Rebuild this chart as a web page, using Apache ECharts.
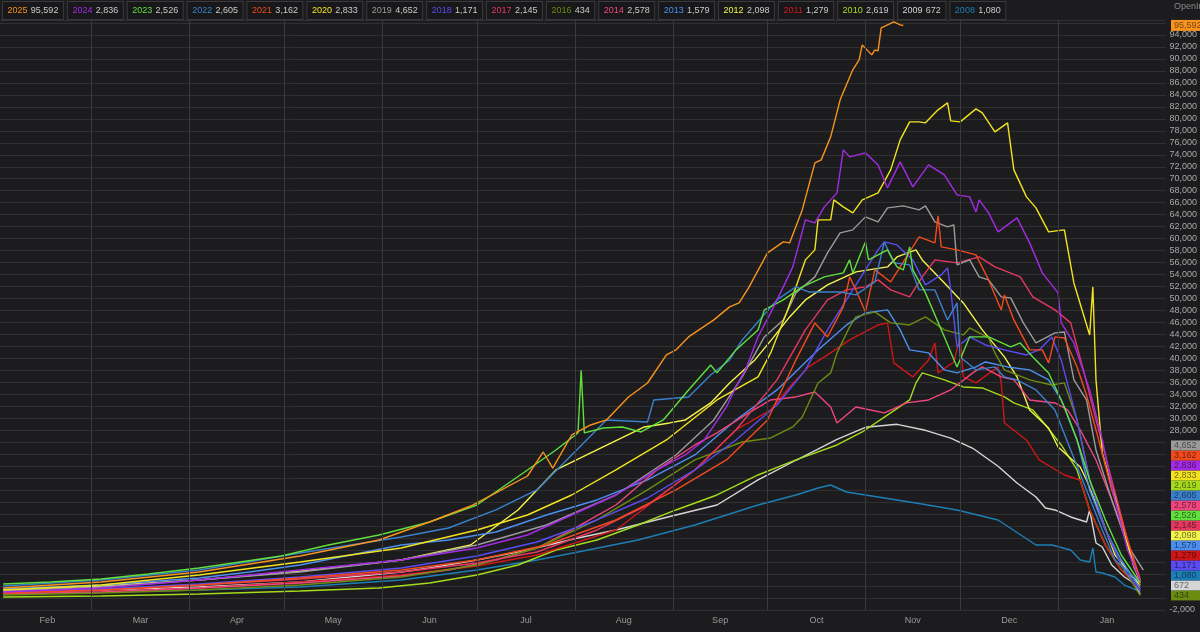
<!DOCTYPE html>
<html><head><meta charset="utf-8"><title>OpenInt</title>
<script src="https://cdn.jsdelivr.net/npm/echarts@6.0.0/dist/echarts.min.js"></script>
<style>html,body{margin:0;padding:0;background:#1c1c1e;overflow:hidden}#chart{width:1200px;height:632px}</style>
</head><body><div id="chart"></div>
<script>
// ---------- data ----------
const years = ['2025','2024','2023','2022','2021','2020','2019','2018','2017','2016','2014','2013','2012','2011','2010','2009','2008'];
const lastValues = [95592,2836,2526,2605,3162,2833,4652,1171,2145,434,2578,1579,2098,1279,2619,672,1080];
const monthNames = ['Feb','Mar','Apr','May','Jun','Jul','Aug','Sep','Oct','Nov','Dec','Jan'];
const monthStartDays = [0,28,59,89,120,150,181,212,242,273,303,334,365];

// [day since Feb 1, open interest]
const d2025 = [[0,1670],[31,2670],[62,4340],[94,7010],[119,9690],[135,12690],[148,15360],[156,17540],[166,20370],[171,24380],[174,21700],[180,27220],[186,28890],[191,29730],[198,33570],[204,35900],[210,40580],[213,41420],[217,43590],[225,46430],[230,48600],[233,49270],[236,51770],[242,57620],[247,59450],[249,59290],[253,64800],[257,72650],[259,73150],[262,77000],[265,83170],[269,88180],[271,89850],[272,92350],[275,90680],[276,91520],[277,91350],[278,95190],[282,96200],[284,95690],[285,95592]];
const d2024 = [[0,1000],[31,1670],[62,3010],[94,4680],[126,6350],[150,8350],[166,10520],[180,13860],[194,17200],[207,21380],[216,23880],[222,26390],[229,31900],[232,35240],[235,38080],[239,43590],[243,47600],[247,51940],[250,55280],[254,63130],[257,62630],[260,65300],[264,67640],[266,74820],[268,73650],[273,74320],[277,72310],[280,68470],[284,72810],[288,68640],[293,72310],[298,70640],[302,67300],[306,66970],[308,64460],[309,66470],[312,64300],[315,61120],[321,63460],[325,59290],[329,54280],[334,50940],[335,45930],[339,42590],[344,34740],[348,26390],[352,16370],[356,8020],[360,2836]];
const d2023 = [[0,2340],[15,2670],[31,3170],[46,4010],[62,5010],[75,6010],[88,7010],[103,8850],[119,10520],[135,12690],[150,15530],[166,21380],[175,24720],[182,27560],[183,38000],[184,27560],[190,28390],[196,28560],[202,27720],[209,29730],[217,34740],[224,38910],[226,37580],[232,41420],[239,44760],[241,48100],[247,49770],[253,51940],[260,53610],[266,54280],[268,56450],[269,54280],[273,59450],[274,56450],[280,58120],[283,55280],[285,54780],[287,58620],[288,54780],[292,50940],[298,43590],[302,38580],[306,43590],[312,43590],[319,41920],[322,42590],[326,40250],[331,37580],[336,31900],[340,26390],[344,19710],[349,13030],[354,7180],[360,2526]];
const d2022 = [[0,2000],[31,3010],[62,4680],[81,6350],[94,7520],[110,8850],[126,10190],[141,11690],[156,14700],[169,18040],[180,23880],[191,29730],[204,29390],[206,33070],[217,33570],[224,37240],[230,39750],[234,43090],[245,49770],[251,51940],[255,51100],[265,51100],[270,50600],[276,52770],[279,59450],[282,55950],[287,55610],[290,51440],[295,51440],[299,46430],[302,49270],[303,40250],[308,38080],[314,38580],[317,36910],[321,36410],[327,34740],[333,31400],[338,24720],[343,18040],[348,11360],[352,6350],[360,2605]];
const d2021 = [[0,840],[31,1340],[62,2170],[94,3340],[126,4680],[150,6350],[172,8850],[194,13030],[213,18040],[229,23050],[242,29730],[251,39750],[257,45930],[261,43590],[266,48600],[268,53610],[270,51440],[273,47760],[276,54780],[281,52770],[286,56950],[290,60290],[295,59290],[296,63790],[297,58620],[302,58120],[308,57280],[312,53110],[316,48100],[317,50600],[320,46430],[325,41420],[329,41420],[331,39250],[333,43590],[336,43420],[340,38580],[343,33900],[346,28060],[351,18040],[356,9690],[360,3162]];
const d2020 = [[0,1340],[31,2170],[62,3840],[94,6010],[126,8350],[150,11360],[166,13860],[180,17200],[194,21380],[210,26390],[226,33070],[239,36910],[243,40920],[248,47600],[251,51940],[254,56450],[257,58120],[258,63130],[262,63130],[263,66470],[266,65300],[269,64300],[272,66470],[277,67640],[281,71480],[284,76490],[287,79490],[290,79490],[292,79330],[296,81500],[299,82670],[300,79660],[303,79490],[308,81660],[310,81000],[314,77820],[318,79330],[320,71480],[324,66970],[327,65130],[331,61120],[336,61460],[339,52600],[344,43920],[345,51940],[346,36400],[348,24210],[352,16870],[355,10860],[358,5180],[360,2833]];
const d2019 = [[0,1170],[31,1840],[62,3010],[94,4340],[126,6350],[150,8850],[172,12190],[194,17200],[213,23880],[225,29730],[234,36910],[241,43590],[247,46430],[251,50940],[257,53610],[261,57620],[265,60960],[269,61460],[273,63630],[277,62790],[280,65130],[285,65460],[290,64800],[292,65460],[295,62790],[299,61960],[301,62290],[302,55610],[306,56450],[309,53610],[312,53110],[316,50270],[319,50100],[323,45930],[327,42590],[333,44260],[336,44420],[339,36410],[343,33070],[346,24720],[351,16370],[356,8850],[361,4652]];
const d2018 = [[0,1000],[31,1500],[62,2340],[94,3510],[126,5010],[150,7010],[169,9350],[188,13030],[204,16700],[219,21380],[232,26390],[245,32230],[254,38080],[261,44760],[267,49770],[273,54780],[277,58120],[279,59450],[283,58950],[288,56450],[292,52270],[297,53940],[299,55110],[300,51440],[302,41920],[306,43590],[311,42250],[317,41420],[324,40580],[328,41420],[332,43590],[335,39750],[340,29730],[344,19710],[349,11360],[354,5510],[360,1171]];
const d2017 = [[0,840],[31,1340],[62,2170],[94,3170],[126,4340],[150,5850],[169,7680],[188,11360],[204,15530],[219,21380],[232,28060],[245,36410],[254,44760],[261,49770],[267,51440],[273,51940],[277,53110],[281,51440],[287,50270],[291,53610],[295,56450],[302,55950],[309,56950],[314,55280],[318,54440],[322,53610],[326,50270],[333,48100],[338,45930],[342,38080],[346,29730],[351,19710],[356,9690],[360,2145]];
const d2016 = [[0,500],[31,840],[62,1340],[94,2170],[126,3510],[150,5510],[169,8350],[188,13030],[204,18040],[219,23050],[234,26050],[243,26720],[250,28560],[253,30230],[258,35910],[262,37580],[264,40920],[266,43090],[268,45260],[270,46930],[276,47760],[281,45930],[287,45590],[292,46930],[298,44760],[304,43920],[306,45090],[312,43420],[314,40920],[317,38080],[325,36410],[332,35570],[336,35910],[340,29730],[344,19710],[349,11360],[354,5510],[360,434]];
const d2014 = [[0,670],[31,1000],[62,1670],[94,2510],[126,3670],[141,4680],[156,6350],[169,8350],[180,11360],[194,15530],[207,21380],[219,25550],[226,27560],[234,30230],[243,33070],[251,33570],[257,34400],[262,31900],[264,29230],[270,31900],[279,30900],[286,32570],[293,33070],[300,34740],[307,37580],[310,38580],[316,36910],[320,36410],[325,33070],[333,32570],[337,31400],[341,28060],[346,23050],[351,16370],[356,8850],[360,2578]];
const d2013 = [[0,1500],[31,2170],[62,3340],[78,4340],[94,5510],[110,7180],[126,8850],[141,9690],[156,11020],[172,13860],[188,16370],[204,19710],[219,23880],[232,29730],[245,34740],[258,41420],[267,45590],[273,47600],[280,48100],[284,44760],[287,41420],[293,40920],[298,38080],[302,37580],[308,38580],[311,39410],[318,38580],[325,38080],[331,36410],[335,33070],[340,26390],[344,18040],[349,11360],[354,6350],[360,1579]];
const d2012 = [[0,1340],[31,2000],[62,3010],[94,4510],[126,6350],[148,8850],[163,14700],[175,21380],[188,24720],[203,28560],[211,29230],[216,29730],[224,32570],[230,35910],[238,39750],[244,43590],[249,46930],[254,49770],[261,52270],[270,54440],[280,55280],[283,56950],[289,58120],[291,56450],[298,52600],[304,49270],[310,44760],[317,40250],[321,36910],[325,31400],[331,28390],[334,25220],[341,21880],[343,19710],[348,13030],[352,7180],[360,2098]];
const d2011 = [[0,670],[31,1000],[62,1670],[94,2670],[126,3840],[150,5340],[169,7180],[194,11360],[219,21380],[232,28060],[243,31400],[249,35240],[255,38580],[262,40920],[268,43090],[277,45590],[280,45930],[282,39250],[288,36910],[293,39750],[295,42590],[296,37580],[301,39410],[303,43590],[304,36910],[308,35910],[315,38580],[316,35910],[317,29230],[324,26390],[328,23050],[336,20540],[341,19710],[344,14700],[349,8850],[354,4680],[360,1279]];
const d2010 = [[0,170],[31,330],[62,670],[94,1170],[119,1670],[135,2510],[150,3840],[163,5510],[175,8020],[188,9690],[201,12190],[213,14700],[226,17200],[239,20540],[251,23050],[264,25550],[272,27720],[281,30900],[287,33070],[289,35910],[291,37580],[298,36410],[304,35240],[310,35070],[317,33570],[320,32570],[326,31400],[330,28890],[335,25550],[340,21380],[344,14700],[349,8850],[354,4680],[360,2619]];
const d2009 = [[0,1000],[31,1340],[62,1840],[94,2670],[126,4340],[135,5010],[150,6350],[166,8020],[182,10020],[194,11360],[213,13860],[226,15530],[239,19710],[251,23000],[264,26500],[273,28500],[283,29000],[292,28000],[300,26700],[307,25000],[315,22000],[321,19200],[327,16870],[330,15030],[333,14700],[338,13530],[343,12690],[344,14700],[346,9190],[348,8520],[351,5510],[355,3510],[358,2510],[360,672]];
const d2008 = [[0,840],[31,1000],[62,1340],[94,1840],[126,3010],[150,4680],[169,6350],[182,7680],[201,9690],[219,12190],[239,15530],[251,17200],[258,18370],[262,18870],[267,17700],[277,16870],[289,15870],[302,14700],[315,13030],[327,8850],[332,8850],[338,8020],[341,6350],[344,6010],[345,8350],[346,4340],[348,4180],[352,3510],[355,2170],[360,1080]];

const seriesData = [d2025,d2024,d2023,d2022,d2021,d2020,d2019,d2018,d2017,d2016,d2014,d2013,d2012,d2011,d2010,d2009,d2008];

// ---------- styles ----------
const lineColors = ['#f7931e','#a42be6','#5fe03c','#3a80cc','#f24a1d','#f2e31e','#9b9b9b','#5a4cf2','#e63760','#6b8c12','#f0467f','#4c8ff0','#f3f34d','#cf1616','#a5db1c','#d6d6d6','#1d7eb6'];
const FONT = '"Liberation Sans", Arial, sans-serif';
const fmt = v => v.toLocaleString('en-US');

const monthMid = monthNames.map((m,i)=> (monthStartDays[i]+monthStartDays[i+1])/2);
const monthLines = monthStartDays.slice(1, monthStartDays.length-1);

const chart = echarts.init(document.getElementById('chart'));

const rich = { v: { color:'#c9c9c9', fontSize:9, fontFamily:FONT, lineHeight:11 } };
years.forEach((y,i)=>{ rich['c'+i] = { color: lineColors[i], fontSize:9, fontFamily:FONT, lineHeight:11 }; });

const series = [];
for (let i = years.length-1; i >= 0; i--) {
  const s = {
    name: years[i], type:'line', data: seriesData[i],
    symbol:'none', showSymbol:false, animation:false,
    lineStyle:{ width:1.4, color: lineColors[i] },
    itemStyle:{ color: lineColors[i] }
  };
  if (i === years.length-1) {
    s.markLine = {
      silent:true, symbol:['none','none'], animation:false,
      label:{ show:false },
      lineStyle:{ color:'#3a3a3d', type:'solid', width:1 },
      data: monthLines.map(d => ({ xAxis: d }))
    };
  }
  series.push(s);
}

const option = {
  backgroundColor:'#1c1c1e',
  animation:false,
  grid:{ left:0, right:30, top:20, bottom:22 },
  legend:{
    data: years, left:-8, top:-4, itemWidth:0, itemHeight:0, itemGap:-2,
    selectedMode:false,
    formatter: name => { const i = years.indexOf(name); return '{c'+i+'|'+name+'} {v|'+fmt(lastValues[i])+'}'; },
    textStyle:{ rich, backgroundColor:'#18181a', borderColor:'#3a3a3c', borderWidth:1, padding:[3,4.5,2,4.5] }
  },
  xAxis:{
    type:'value', min:-1, max:368,
    axisLine:{ show:false }, axisTick:{ show:false }, splitLine:{ show:false },
    axisLabel:{ customValues: monthMid, formatter: v => { const i = monthMid.indexOf(v); return i >= 0 ? monthNames[i] : ''; },
      color:'#9a9a9a', fontSize:9, fontFamily:FONT, margin:6 }
  },
  yAxis:{
    type:'value', position:'right', min:-2000, max:96500, interval:2000,
    axisLine:{ show:false }, axisTick:{ show:false },
    splitLine:{ lineStyle:{ color:'#303033', width:1 } },
    axisLabel:{ color:'#a8a8a8', fontSize:9, fontFamily:FONT, margin:4,
      formatter: v => ((v >= 0 && v <= 26000) || v >= 95000) ? '' : fmt(v) }
  },
  series
};
chart.setOption(option);

// end-of-line value tags on the axis
function tag(x, y, i, h) {
  return { type:'group', x:x, y:y - h/2, z:100, children:[
    { type:'rect', shape:{ x:0, y:0, width:32, height:h }, style:{ fill: lineColors[i] } },
    { type:'text', x:3, y:h/2+0.5, style:{ text: fmt(lastValues[i]), fill:'rgba(0,0,0,0.55)', font:'9px '+FONT, verticalAlign:'middle', align:'left' } }
  ]};
}
const elements = [
  { type:'text', x:1174, y:2, style:{ text:'OpenInt', fill:'#8a8a8a', font:'9px '+FONT } }
];
const x0 = chart.getWidth() - 29;
const order = years.map((y,i)=>i).filter(i => i !== 0).sort((a,b)=> lastValues[a]-lastValues[b]);
let prev = Infinity;
order.forEach(i => {
  let y = chart.convertToPixel({ yAxisIndex:0 }, lastValues[i]);
  y = Math.min(y, prev - 10);
  prev = y;
  elements.push(tag(x0, y, i, 10));
});
elements.push(tag(x0, chart.convertToPixel({ yAxisIndex:0 }, lastValues[0]), 0, 11));
chart.setOption({ graphic:{ elements } });
</script></body></html>
